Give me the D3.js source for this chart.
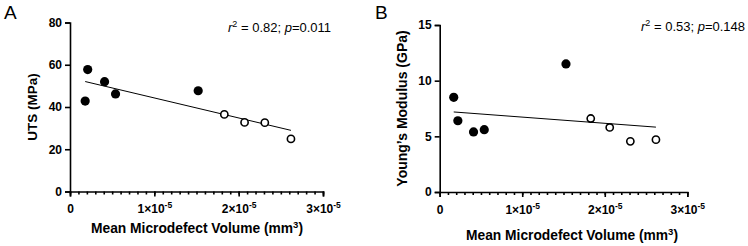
<!DOCTYPE html>
<html>
<head>
<meta charset="utf-8">
<script src="https://cdn.jsdelivr.net/npm/d3@7"></script>
<style>
  body { margin: 0; background: #fff; }
  svg { font-family: "Liberation Sans", Arial, sans-serif; }
</style>
</head>
<body>
<svg id="chart" width="748" height="246"></svg>
<script>
// mean microdefect volume (mm^3) per specimen
const volumeA = [1.8e-6, 2.1e-6, 4.1e-6, 5.4e-6, 15.2e-6, 18.3e-6, 20.7e-6, 23.1e-6, 26.2e-6];
const utsA = [42.8, 57.7, 52.0, 46.2, 47.7, 36.5, 32.7, 32.6, 24.9];
const volumeB = [1.7e-6, 2.2e-6, 4.1e-6, 5.4e-6, 15.3e-6, 18.3e-6, 20.6e-6, 23.1e-6, 26.2e-6];
const modulusB = [8.5, 6.4, 5.4, 5.6, 11.5, 6.6, 5.8, 4.55, 4.7];
// first five are filled, the rest open
const groupFilled = [true, true, true, true, true, false, false, false, false];
const xTicks = [0, 1e-5, 2e-5, 3e-5];
const yTicksA = [0, 20, 40, 60, 80];
const yTicksB = [0, 5, 10, 15];

const svg = d3.select('#chart');

// least squares fit, drawn over the data range
function fitLine(xs, ys) {
  const mx = d3.mean(xs), my = d3.mean(ys);
  let sxy = 0, sxx = 0;
  xs.forEach((x, i) => { sxy += (x - mx) * (ys[i] - my); sxx += (x - mx) * (x - mx); });
  const b = sxy / sxx, a = my - b * mx;
  const x0 = d3.min(xs), x1 = d3.max(xs);
  return [[x0, a + b * x0], [x1, a + b * x1]];
}

function sciLabel(sel) {
  sel.each(function(d) {
    const t = d3.select(this);
    t.text(null);
    if (d === 0) { t.text('0'); return; }
    const exp = Math.floor(Math.log10(d) + 1e-9);
    const m = Math.round(d / Math.pow(10, exp));
    t.append('tspan').text(m + '×10');
    t.append('tspan').attr('dy', -5).style('font-size', '8.5px').text(String(exp));
  });
}

function panel(opt) {
  const x = d3.scaleLinear().domain([0, 3e-5]).range(opt.xr);
  const y = d3.scaleLinear().domain(opt.ydom).range(opt.yr);
  const g = svg.append('g');

  // x axis: major + minor
  const xa = g.append('g').attr('transform', `translate(0,${opt.yr[0]})`)
    .call(d3.axisBottom(x).tickValues(xTicks).tickSizeOuter(0).tickSize(5).tickPadding(8));
  xa.selectAll('.tick text').call(sciLabel);
  g.append('g').attr('transform', `translate(0,${opt.yr[0]})`)
    .call(d3.axisBottom(x).tickValues(d3.range(0, 31).map(i => i * 1e-6)).tickSize(3).tickFormat(''))
    .select('.domain').remove();

  g.append('g').attr('transform', `translate(${opt.xr[0]},0)`)
    .call(d3.axisLeft(y).tickValues(opt.yticks).tickSizeOuter(0).tickSize(5).tickPadding(3));

  g.selectAll('.domain, .tick line').attr('stroke', '#000').attr('stroke-width', 1.6);
  g.selectAll('.tick text').attr('fill', '#000').style('font-size', '12px').style('font-weight', 'bold');

  // regression line
  const fit = fitLine(opt.xs, opt.ys);
  g.append('line')
    .attr('x1', x(fit[0][0])).attr('y1', y(fit[0][1]))
    .attr('x2', x(fit[1][0])).attr('y2', y(fit[1][1]))
    .attr('stroke', '#000').attr('stroke-width', 1);

  g.selectAll('circle.pt')
    .data(opt.xs.map((v, i) => ({ x: v, y: opt.ys[i], f: groupFilled[i] })))
    .enter().append('circle')
    .attr('class', 'pt')
    .attr('cx', d => x(d.x)).attr('cy', d => y(d.y))
    .attr('r', d => d.f ? 4.6 : 3.6)
    .attr('fill', d => d.f ? '#000' : '#fff')
    .attr('stroke', '#000').attr('stroke-width', d => d.f ? 0 : 1.6);

  // titles
  const xt = g.append('text')
    .attr('x', opt.xtx).attr('y', opt.xty)
    .attr('text-anchor', 'middle')
    .style('font-size', '13.8px').style('font-weight', 'bold');
  xt.append('tspan').text('Mean Microdefect Volume (mm');
  xt.append('tspan').attr('dy', -5).style('font-size', '9.5px').text('3');
  xt.append('tspan').attr('dy', 5).text(')');

  g.append('text')
    .attr('transform', `translate(${opt.ytx},${(opt.yr[0] + opt.yr[1]) / 2}) rotate(-90)`)
    .attr('text-anchor', 'middle')
    .style('font-size', opt.ysize).style('font-weight', 'bold')
    .text(opt.ylabel);

  const st = g.append('text').attr('x', opt.statx).attr('y', opt.staty).style('font-size', '13px');
  st.append('tspan').style('font-style', 'italic').text('r');
  st.append('tspan').attr('dy', -5).style('font-size', '9px').text('2');
  st.append('tspan').attr('dy', 5).text(' = ' + opt.r2 + '; ');
  st.append('tspan').style('font-style', 'italic').text('p');
  st.append('tspan').text('=' + opt.p);

  g.append('text').attr('x', opt.letterx).attr('y', 19).style('font-size', '19px').text(opt.letter);
}

panel({
  letter: 'A', letterx: 4,
  xs: volumeA, ys: utsA, ydom: [0, 80], yticks: yTicksA,
  xr: [70, 323], yr: [191.5, 22.5],
  xtx: 197, xty: 233, ytx: 37, ysize: '13.5px', ylabel: 'UTS (MPa)',
  statx: 228, staty: 32, r2: '0.82', p: '0.011'
});

panel({
  letter: 'B', letterx: 375,
  xs: volumeB, ys: modulusB, ydom: [0, 15], yticks: yTicksB,
  xr: [439.7, 687.3], yr: [192, 25],
  xtx: 572, xty: 240, ytx: 407, ysize: '14px', ylabel: 'Young’s Modulus (GPa)',
  statx: 641, staty: 31, r2: '0.53', p: '0.148'
});
</script>
</body>
</html>
